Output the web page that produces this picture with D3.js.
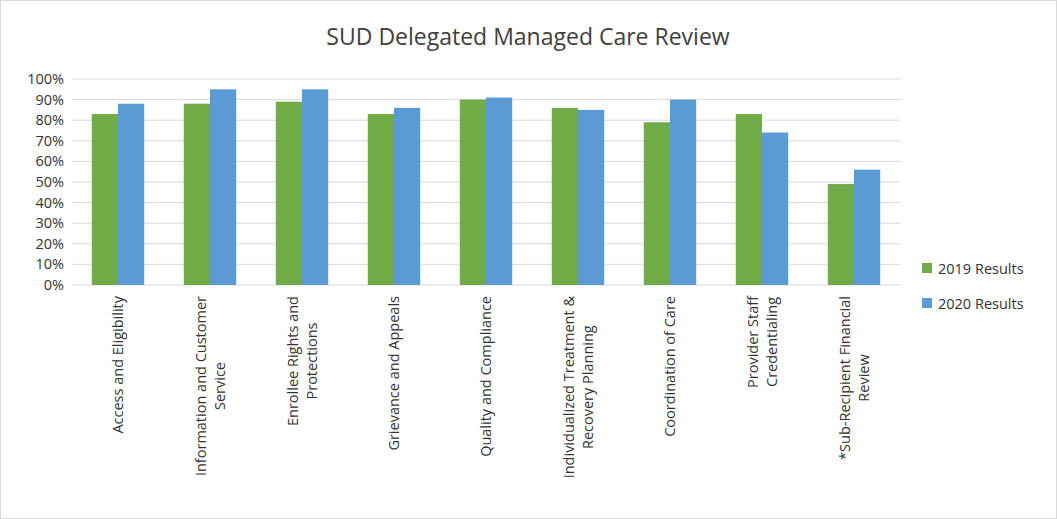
<!DOCTYPE html><html><head><meta charset="utf-8"><script src="https://cdn.jsdelivr.net/npm/d3@7"></script>
<style>body{margin:0;background:#fff}text{font-family:"Open Sans",sans-serif;fill:#333}</style></head><body>
<svg id="c" width="1057" height="519"></svg>
<script>
const categories=[["Access and Eligibility"],["Information and Customer","Service"],["Enrollee Rights and","Protections"],["Grievance and Appeals"],["Quality and Compliance"],["Individualized Treatment &","Recovery Planning"],["Coordination of Care"],["Provider Staff","Credentialing"],["*Sub-Recipient Financial","Review"]];
const s2019=[83,88,89,83,90,86,79,83,49];
const s2020=[88,95,95,86,91,85,90,74,56];
const series=["2019 Results","2020 Results"];
const colors=["#70ad47","#5b9bd5"];
const yTicks=[0,10,20,30,40,50,60,70,80,90,100];
const svg=d3.select("#c");
svg.append("rect").attr("x",0.5).attr("y",0.5).attr("width",1056).attr("height",518).attr("fill","#fff").attr("stroke","#d9d9d9");
svg.append("text").attr("x",528).attr("y",45).attr("text-anchor","middle").style("font-size","23px").style("fill","#404040").text("SUD Delegated Managed Care Review");
const x=d3.scaleBand().domain(d3.range(9)).range([72,900]).paddingInner(0.43).paddingOuter(0.215);
const y=d3.scaleLinear().domain([0,100]).range([285,79]);
const g=svg.append("g");
g.selectAll("line.g").data(yTicks).join("line").attr("x1",72).attr("x2",900).attr("y1",d=>y(d)).attr("y2",d=>y(d)).attr("stroke","#d9d9d9");
g.selectAll("text.y").data(yTicks).join("text").attr("x",64).attr("y",d=>y(d)+5).attr("text-anchor","end").style("font-size","14.5px").text(d=>d+"%");
const xs=d3.scaleBand().domain([0,1]).range([0,x.bandwidth()]);
[s2019,s2020].forEach((s,i)=>{
 g.selectAll("rect.s"+i).data(s).join("rect").attr("x",(d,j)=>x(j)+xs(i)).attr("width",xs.bandwidth()).attr("y",d=>y(d)).attr("height",d=>y(0)-y(d)).attr("fill",colors[i]);
});
categories.forEach((lines,j)=>{
 const cx=x(j)+x.bandwidth()/2;
 const t=g.append("g").attr("transform",`translate(${cx},296) rotate(-90)`);
 const n=lines.length;
 const tx=lines.map((l,k)=>t.append("text").attr("y",5+(k-(n-1)/2)*19).style("font-size","14.5px").attr("text-anchor","middle").text(l));
 const w=d3.max(tx,e=>e.node().getComputedTextLength());
 tx.forEach(e=>e.attr("x",-w/2));
});
series.forEach((s,i)=>{
 svg.append("rect").attr("x",922).attr("y",263+i*35).attr("width",10).attr("height",10).attr("fill",colors[i]);
 svg.append("text").attr("x",938).attr("y",274+i*35).style("font-size","14.5px").text(s);
});
</script></body></html>
